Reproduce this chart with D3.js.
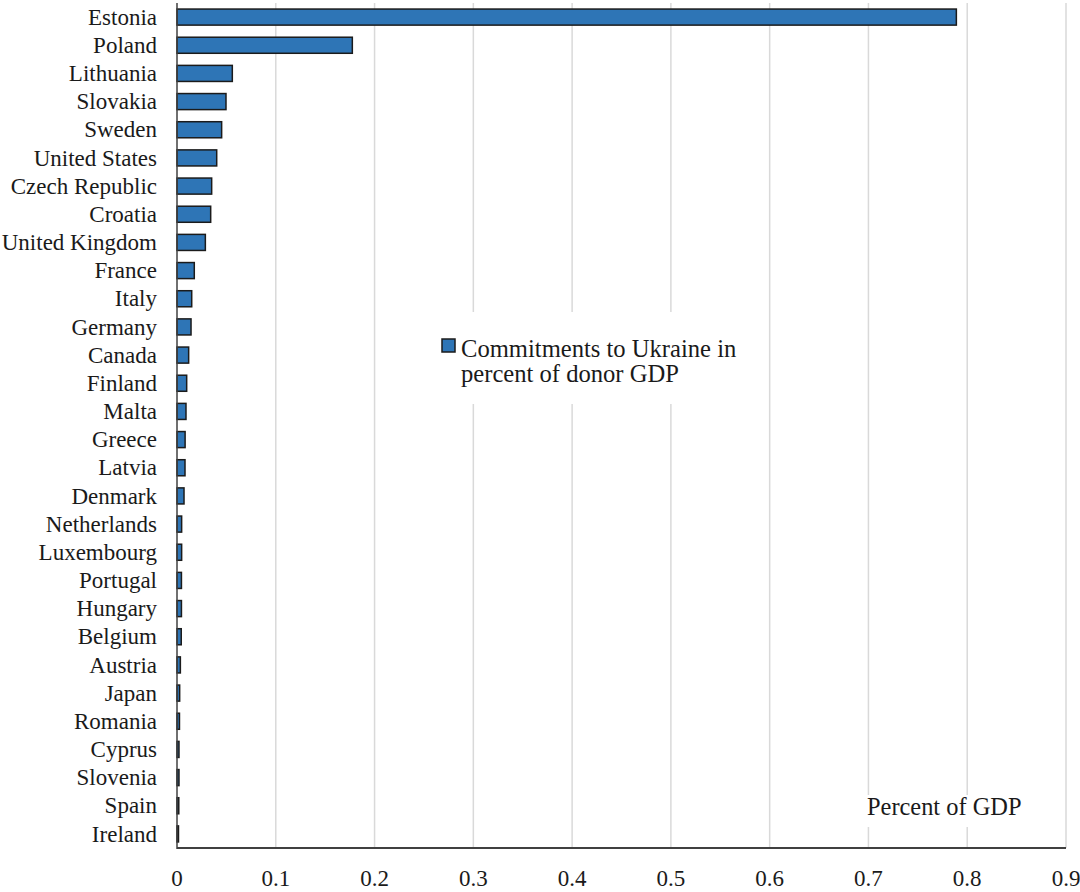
<!DOCTYPE html>
<html>
<head>
<meta charset="utf-8">
<script src="https://cdn.jsdelivr.net/npm/d3@7"></script>
<style>
  html, body { margin: 0; padding: 0; background: #fff; }
  svg { display: block; }
  svg text { font-family: "Liberation Serif", "Times New Roman", Times, "DejaVu Serif", serif; }
</style>
</head>
<body>
<script>
const countries = ["Estonia","Poland","Lithuania","Slovakia","Sweden","United States","Czech Republic","Croatia","United Kingdom","France","Italy","Germany","Canada","Finland","Malta","Greece","Latvia","Denmark","Netherlands","Luxembourg","Portugal","Hungary","Belgium","Austria","Japan","Romania","Cyprus","Slovenia","Spain","Ireland"];
const commitments = [0.789,0.1775,0.056,0.0496,0.0452,0.0402,0.0351,0.0341,0.0287,0.0175,0.0149,0.0142,0.0118,0.0098,0.0091,0.0082,0.0081,0.0071,0.0047,0.0047,0.0045,0.0045,0.0043,0.0034,0.0027,0.0025,0.002,0.002,0.0018,0.0015];
const xTicks = [0,0.1,0.2,0.3,0.4,0.5,0.6,0.7,0.8,0.9];
const xTickLabels = ["0","0.1","0.2","0.3","0.4","0.5","0.6","0.7","0.8","0.9"];
const legendLines = ["Commitments to Ukraine in","percent of donor GDP"];
const unitLabel = "Percent of GDP";

(function () {
const W = 1080, H = 892;
const mLeft = 177, mRight = 1066, mTop = 3, mBottom = 848;
const barFill = "#2e75b6", barStroke = "#1b1b1b";

const svg = d3.select("body").append("svg").attr("width", W).attr("height", H);

const x = d3.scaleLinear().domain([0, 0.9]).range([mLeft, mRight]);
const y = d3.scaleBand().domain(countries).range([mTop, mBottom]).paddingInner(0.43).paddingOuter(0.215);

// gridlines
svg.append("g").selectAll("line").data(xTicks.filter(d => d > 0)).join("line")
  .attr("x1", d => x(d)).attr("x2", d => x(d))
  .attr("y1", mTop).attr("y2", mBottom)
  .attr("stroke", "#d9d9d9").attr("stroke-width", 1.5);

// bars
svg.append("g").selectAll("rect").data(countries).join("rect")
  .attr("x", x(0))
  .attr("y", d => y(d))
  .attr("width", (d, i) => x(commitments[i]) - x(0))
  .attr("height", y.bandwidth())
  .attr("fill", barFill)
  .attr("stroke", barStroke)
  .attr("stroke-width", 1.5);

// axes lines
svg.append("line").attr("x1", mLeft).attr("x2", mLeft).attr("y1", mTop).attr("y2", mBottom + 1)
  .attr("stroke", "#404040").attr("stroke-width", 1.5);
svg.append("line").attr("x1", mLeft).attr("x2", mRight).attr("y1", mBottom).attr("y2", mBottom)
  .attr("stroke", "#404040").attr("stroke-width", 2);

// category labels
svg.append("g").selectAll("text").data(countries).join("text")
  .attr("x", 157)
  .attr("y", d => y(d) + y.bandwidth() / 2 + 7.6)
  .attr("text-anchor", "end")
  .attr("font-size", 23).attr("fill", "#1a1a1a")
  .text(d => d);

// x tick labels
svg.append("g").selectAll("text").data(xTicks).join("text")
  .attr("x", d => x(d))
  .attr("y", 886)
  .attr("text-anchor", "middle")
  .attr("font-size", 23).attr("fill", "#1a1a1a")
  .text((d, i) => xTickLabels[i]);

// legend
const lg = svg.append("g");
lg.append("rect").attr("x", 436).attr("y", 312).attr("width", 310).attr("height", 92).attr("fill", "#fff");
lg.append("rect").attr("x", 442).attr("y", 339).attr("width", 13).attr("height", 13)
  .attr("fill", barFill).attr("stroke", barStroke).attr("stroke-width", 1.5);
lg.selectAll("text.l").data(legendLines).join("text").attr("class", "l")
  .attr("x", 461).attr("y", (d, i) => 357 + i * 25)
  .attr("font-size", 24.6).attr("fill", "#1a1a1a")
  .text(d => d);

// unit label
svg.append("rect").attr("x", 856).attr("y", 795).attr("width", 180).attr("height", 32).attr("fill", "#fff");
svg.append("text").attr("x", 867).attr("y", 815)
  .attr("font-size", 24.4).attr("fill", "#1a1a1a")
  .text(unitLabel);
})();
</script>
</body>
</html>
